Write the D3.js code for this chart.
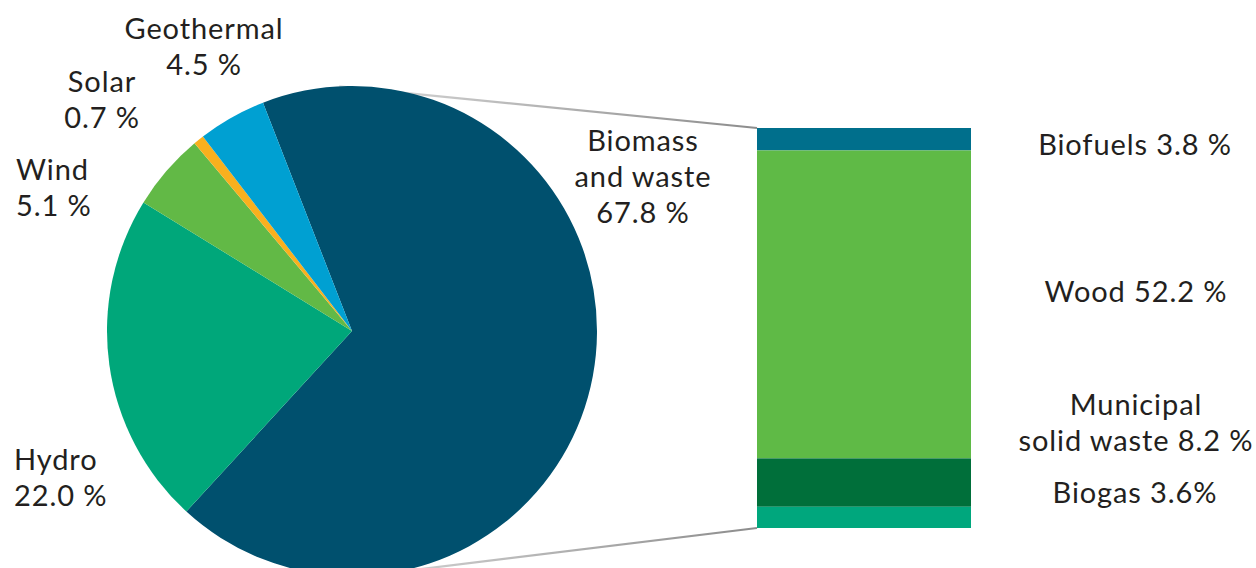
<!DOCTYPE html>
<html>
<head>
<meta charset="utf-8">
<script src="https://cdn.jsdelivr.net/npm/d3@7"></script>
<style>
  html, body { margin: 0; padding: 0; background: #fff; }
  svg { display: block; }
  text { font-family: Lato, "Open Sans", sans-serif; fill: #231f20; }
</style>
</head>
<body>
<svg id="chart" width="1256" height="568"></svg>
<script>
// Renewable energy sources (share of total, %)
const sources = ["Biomass and waste", "Hydro", "Wind", "Solar", "Geothermal"];
const sourceShares = [67.8, 22.0, 5.1, 0.7, 4.5];
const sourceColors = ["#00506e", "#00a77a", "#62b946", "#f9b01e", "#00a0d2"];

// Breakdown of biomass and waste (share of total, %), top to bottom
const biomassParts = ["Biofuels", "Wood", "Municipal solid waste", "Biogas"];
const biomassShares = [3.8, 52.2, 8.2, 3.6];
const biomassColors = ["#006f8c", "#5fba46", "#006f3a", "#00a77d"];

const svg = d3.select("#chart");

// ---- Pie ----
const cx = 352, cy = 331, r = 245;
const startDeg = -21.3;
const pie = d3.pie().sort(null)
  .startAngle(startDeg * Math.PI / 180)
  .endAngle((startDeg + 360) * Math.PI / 180);
const arc = d3.arc().innerRadius(0).outerRadius(r);
const arcs = pie(sourceShares);

// ---- Connector lines (drawn first, under the marks) ----
const bar = { x0: 757, x1: 971, y0: 128, y1: 528 };
const defs = svg.append("defs");
const grad = defs.append("linearGradient").attr("id", "conn")
  .attr("gradientUnits", "userSpaceOnUse")
  .attr("x1", cx).attr("x2", bar.x0).attr("y1", 0).attr("y2", 0);
grad.append("stop").attr("offset", "0%").attr("stop-color", "#d8d8d8");
grad.append("stop").attr("offset", "100%").attr("stop-color", "#8c8c8c");

const pt = deg => [cx + r * Math.sin(deg * Math.PI / 180), cy - r * Math.cos(deg * Math.PI / 180)];
const topPt = pt(-3), botPt = pt(170);
svg.append("line").attr("x1", topPt[0]).attr("y1", topPt[1]).attr("x2", bar.x0).attr("y2", bar.y0)
  .attr("stroke", "url(#conn)").attr("stroke-width", 2.2);
svg.append("line").attr("x1", botPt[0]).attr("y1", botPt[1]).attr("x2", bar.x0).attr("y2", bar.y1)
  .attr("stroke", "url(#conn)").attr("stroke-width", 2.2);

svg.append("g").attr("transform", `translate(${cx},${cy})`)
  .selectAll("path").data(arcs).join("path")
  .attr("d", arc)
  .attr("fill", (d, i) => sourceColors[i]);

// ---- Stacked bar for biomass and waste ----
const total = d3.sum(biomassShares);
const y = d3.scaleLinear().domain([0, total]).range([bar.y0, bar.y1]);
const cum = d3.cumsum(biomassShares);
svg.append("g").selectAll("rect").data(biomassShares).join("rect")
  .attr("x", bar.x0)
  .attr("width", bar.x1 - bar.x0)
  .attr("y", (d, i) => y(cum[i] - d))
  .attr("height", d => y(d) - y(0))
  .attr("fill", (d, i) => biomassColors[i]);

// ---- Labels ----
const fmt = v => v.toFixed(1) + " %";
const fs = 29;
function label(lines, x, yb, anchor) {
  lines.forEach((s, i) => svg.append("text")
    .attr("x", x).attr("y", yb + i * 36)
    .attr("text-anchor", anchor).attr("font-size", fs)
    .attr("letter-spacing", 0.9)
    .text(s));
}
label(["Geothermal", fmt(sourceShares[4])], 204, 39, "middle");
label(["Solar", fmt(sourceShares[3])], 102, 92, "middle");
label(["Wind", fmt(sourceShares[2])], 16, 180, "start");
label(["Hydro", fmt(sourceShares[1])], 14, 470, "start");
label(["Biomass", "and waste", fmt(sourceShares[0])], 643, 151, "middle");

label([`${biomassParts[0]} ${fmt(biomassShares[0])}`], 1135, 155, "middle");
label([`${biomassParts[1]} ${fmt(biomassShares[1])}`], 1136, 302, "middle");
label(["Municipal", `solid waste ${fmt(biomassShares[2])}`], 1136, 415, "middle");
label([`${biomassParts[3]} ${biomassShares[3].toFixed(1)}%`], 1135, 503, "middle");
</script>
</body>
</html>
